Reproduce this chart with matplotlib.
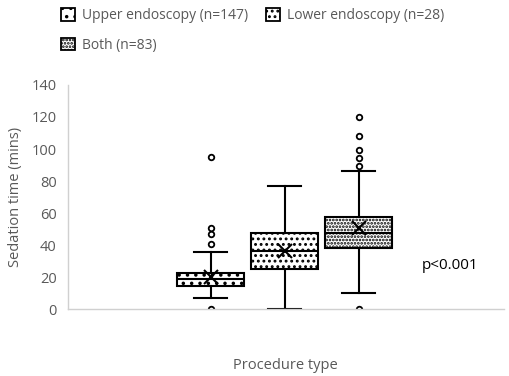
import matplotlib
matplotlib.use('Agg')
import matplotlib.pyplot as plt
from matplotlib.patches import Patch

plt.rcParams['font.family'] = ['Open Sans', 'DejaVu Sans']
plt.rcParams['hatch.linewidth'] = 1.3

# box statistics (minutes)
groups = ['Upper endoscopy (n=147)', 'Lower endoscopy (n=28)', 'Both (n=83)']
q1 = [14.5, 24.8, 38.3]
med = [18.8, 36.2, 47.3]
q3 = [22.7, 47.7, 57.7]
whislo = [6.7, 0, 10]
whishi = [35.8, 76.9, 86.3]
means = [19.8, 36.5, 50.8]
fliers = [[0, 40.6, 46.7, 50.8, 95.2], [], [0, 89.6, 94.6, 99.4, 108, 119.8]]
hatches = ['..', '...', '.....']

grey = '#595959'

stats = []
for i in range(3):
    stats.append(dict(label=groups[i], q1=q1[i], med=med[i], q3=q3[i],
                      whislo=whislo[i], whishi=whishi[i], mean=means[i],
                      fliers=fliers[i]))

fig = plt.figure(figsize=(5.1, 3.76), dpi=100)
ax = fig.add_axes([0.133, 0.178, 0.855, 0.596])

bp = ax.bxp(stats, positions=[-1, 0, 1], widths=0.9, patch_artist=True,
            showmeans=True, meanline=False,
            boxprops=dict(facecolor='white', edgecolor='black', linewidth=1.5),
            medianprops=dict(color='black', linewidth=1.5),
            whiskerprops=dict(color='black', linewidth=1.5),
            capprops=dict(color='black', linewidth=1.5),
            meanprops=dict(marker='x', markersize=10, markeredgecolor='black',
                           markeredgewidth=1.5),
            flierprops=dict(marker='o', markersize=4, markerfacecolor='white',
                            markeredgecolor='black', markeredgewidth=1.3))
for b, h in zip(bp['boxes'], hatches):
    b.set_hatch(h)
for c in bp['caps']:
    x = c.get_xdata()
    mid = (x[0] + x[1]) / 2
    c.set_xdata([mid - 0.22, mid + 0.22])

ax.set_xlim(-2.93, 2.96)
ax.set_ylim(0, 140)
ax.set_yticks(range(0, 141, 20))
ax.set_xticks([])
ax.tick_params(axis='y', length=0, labelsize=10.5, labelcolor=grey, pad=8)
for s in ['top', 'right']:
    ax.spines[s].set_visible(False)
for s in ['left', 'bottom']:
    ax.spines[s].set_color('#d0d0d0')
    ax.spines[s].set_linewidth(1)

ax.set_ylabel('Sedation time (mins)', fontsize=10.5, color=grey, labelpad=6)
ax.set_xlabel('Procedure type', fontsize=10.5, color=grey, labelpad=35)
ax.text(2.23, 27, 'p<0.001', fontsize=11, color='black', ha='center', va='center')

# legend fills column by column, so order it to read row by row
handles = [Patch(facecolor='white', edgecolor='black', hatch=h, linewidth=1.3)
           for h in hatches]
order = [0, 2, 1]
fig.legend([handles[i] for i in order], [groups[i] for i in order],
           loc='upper left', bbox_to_anchor=(0.095, 1.011), ncol=2,
           frameon=False, fontsize=10, labelcolor=grey, handlelength=1.0,
           handleheight=1.0, handletextpad=0.55, columnspacing=1.25,
           labelspacing=1.05)

fig.savefig('out.png', dpi=100)
